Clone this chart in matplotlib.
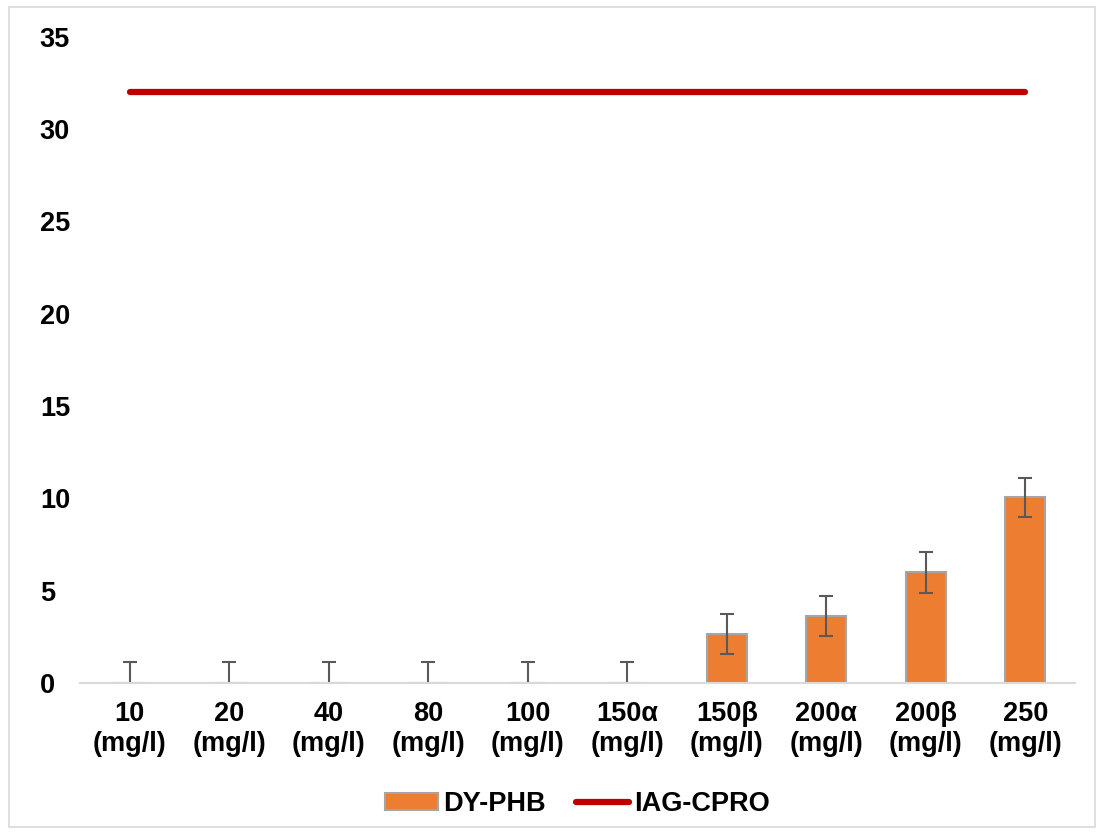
import numpy as np
import matplotlib.pyplot as plt
from matplotlib.patches import Rectangle

plt.rcParams['font.family'] = ['Liberation Sans', 'DejaVu Sans']
plt.rcParams['font.weight'] = 'bold'

categories = ['10\n(mg/l)', '20\n(mg/l)', '40\n(mg/l)', '80\n(mg/l)', '100\n(mg/l)',
              '150α\n(mg/l)', '150β\n(mg/l)', '200α\n(mg/l)', '200β\n(mg/l)', '250\n(mg/l)']
dy_phb = [0, 0, 0, 0, 0, 0, 2.65, 3.63, 6.0, 10.05]
dy_err = [1.15, 1.15, 1.15, 1.15, 1.15, 1.15, 1.1, 1.08, 1.1, 1.08]
iag_cpro = [32, 32, 32, 32, 32, 32, 32, 32, 32, 32]

fig = plt.figure(figsize=(10.97, 8.34), dpi=100)
ax = fig.add_axes([0.073, 0.181, 0.907, 0.775])

x = np.arange(len(categories))
bars = ax.bar(x, dy_phb, width=0.4, color='#ED7D31', edgecolor='#A5A5A5', linewidth=1.5,
              yerr=dy_err, error_kw=dict(ecolor='#595959', elinewidth=1.5, capsize=5, capthick=1.5),
              label='DY-PHB', zorder=2)
line, = ax.plot(x, iag_cpro, color='#C00000', linewidth=4.5, solid_capstyle='round',
                label='IAG-CPRO', zorder=3)

ax.set_xlim(-0.5, len(categories) - 0.5)
ax.set_ylim(0, 35)
ax.set_yticks(np.arange(0, 36, 5))
ax.set_xticks(x)
ax.set_xticklabels(categories, fontsize=19.5, fontweight='bold', linespacing=1.2)
ax.tick_params(axis='y', labelsize=19.5, length=0, pad=29)
ax.tick_params(axis='x', length=0, pad=13)
for lab in ax.get_yticklabels():
    lab.set_horizontalalignment('left')

for s in ['top', 'right', 'left']:
    ax.spines[s].set_visible(False)
ax.spines['bottom'].set_color('#D9D9D9')
ax.spines['bottom'].set_linewidth(1.5)

ax.legend([bars, line], ['DY-PHB', 'IAG-CPRO'], loc='lower center',
          bbox_to_anchor=(0.5, -0.245), ncol=2, frameon=False,
          fontsize=19.5, handlelength=1.95, handleheight=0.6, columnspacing=1.1, handletextpad=0.2)

fig.patches.append(Rectangle((0.008, 0.008), 0.99, 0.984, transform=fig.transFigure,
                             fill=False, edgecolor='#D9D9D9', linewidth=1.2))

fig.savefig('out.png', dpi=100)
